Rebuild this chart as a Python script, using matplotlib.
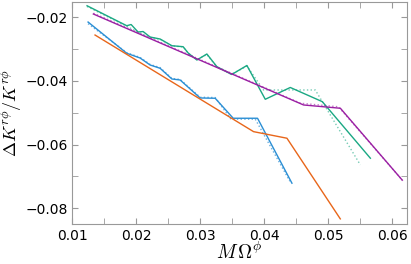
import matplotlib
matplotlib.use("Agg")
import matplotlib.pyplot as plt
from matplotlib.ticker import MultipleLocator

plt.rcParams["mathtext.fontset"] = "cm"

# Data
green_x = [0.01230, 0.01851, 0.01919, 0.02028, 0.02106, 0.02216, 0.02372, 0.02556,
           0.02732, 0.02811, 0.02947, 0.03103, 0.03260, 0.03491, 0.03729, 0.04016,
           0.04407, 0.04908, 0.05659]
green_y = [-0.01636, -0.02264, -0.02226, -0.02462, -0.02446, -0.02619, -0.02681, -0.02892,
           -0.02923, -0.03121, -0.03341, -0.03152, -0.03551, -0.03796, -0.03513, -0.04575,
           -0.04204, -0.04650, -0.06427]
green_dot_x = [0.01230, 0.01851, 0.02028, 0.02216, 0.02372, 0.02556, 0.02732, 0.02811,
               0.02947, 0.03103, 0.03260, 0.03491, 0.03729, 0.03989, 0.04798, 0.05502]
green_dot_y = [-0.01660, -0.02280, -0.02470, -0.02630, -0.02690, -0.02900, -0.02930, -0.03130,
               -0.03330, -0.03170, -0.03560, -0.03790, -0.03530, -0.04283, -0.04283, -0.06637]

purple_x = [0.01329, 0.04615, 0.05190, 0.06155]
purple_y = [-0.01896, -0.04754, -0.04857, -0.07109]
purple_dot_x = [0.01329, 0.04570, 0.05160, 0.06190]
purple_dot_y = [-0.01870, -0.04700, -0.04810, -0.07190]

blue_x = [0.01246, 0.01851, 0.02059, 0.02216, 0.02372, 0.02556, 0.02685, 0.02998,
          0.03233, 0.03515, 0.03895, 0.04433]
blue_y = [-0.02148, -0.03130, -0.03278, -0.03498, -0.03601, -0.03937, -0.03969, -0.04534,
          -0.04543, -0.05171, -0.05171, -0.07212]
blue_dot_x = [0.01246, 0.01851, 0.02059, 0.02216, 0.02372, 0.02556, 0.02685, 0.02998,
              0.03233, 0.03480, 0.03860, 0.04400]
blue_dot_y = [-0.02200, -0.03110, -0.03260, -0.03480, -0.03580, -0.03920, -0.03950, -0.04510,
              -0.04520, -0.05200, -0.05200, -0.07150]

orange_x = [0.01355, 0.03833, 0.04355, 0.05189]
orange_y = [-0.02556, -0.05592, -0.05799, -0.08333]

c_green = "#1aa883"
c_purple = "#9a1fa3"
c_blue = "#2a8ed4"
c_orange = "#e8661a"

fig = plt.figure(figsize=(4.11, 2.64), dpi=100)
ax = fig.add_axes([0.176, 0.152, 0.814, 0.839])

ax.plot(green_dot_x, green_dot_y, ":", color=c_green, lw=1.0, alpha=0.6)
ax.plot(green_x, green_y, "-", color=c_green, lw=1.0)
ax.plot(purple_dot_x, purple_dot_y, ":", color=c_purple, lw=1.0, alpha=0.6)
ax.plot(purple_x, purple_y, "-", color=c_purple, lw=1.0)
ax.plot(blue_dot_x, blue_dot_y, ":", color=c_blue, lw=1.0, alpha=0.7)
ax.plot(blue_x, blue_y, "-", color=c_blue, lw=1.0)
ax.plot(orange_x, orange_y, "-", color=c_orange, lw=1.0)

ax.set_xlim(0.01, 0.0623)
ax.set_ylim(-0.0849, -0.0153)

ax.xaxis.set_major_locator(MultipleLocator(0.01))
ax.xaxis.set_minor_locator(MultipleLocator(0.005))
ax.yaxis.set_major_locator(MultipleLocator(0.02))
ax.yaxis.set_minor_locator(MultipleLocator(0.01))
ax.tick_params(which="both", direction="in", top=True, right=True, length=4,
               color="#999999", labelsize=10)
for s in ax.spines.values():
    s.set_color("#999999")

ax.set_xlabel(r"$M\,\Omega^{\phi}$", fontsize=14, labelpad=-1)
ax.set_ylabel(r"$\Delta K^{r\phi}/K^{r\phi}$", fontsize=13, labelpad=1)

fig.savefig("out.png", dpi=100)
